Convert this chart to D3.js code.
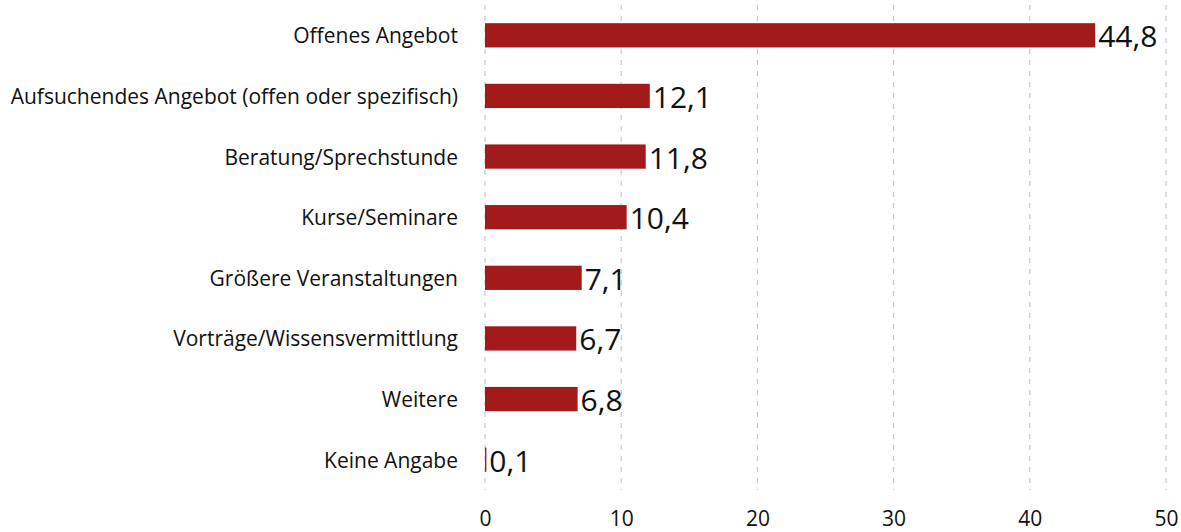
<!DOCTYPE html>
<html>
<head>
<meta charset="utf-8">
<script src="https://cdn.jsdelivr.net/npm/d3@7"></script>
<style>
  body { margin: 0; background: #fff; }
  text { font-family: "Open Sans", Lato, sans-serif; fill: #111; }
</style>
</head>
<body>
<div id="chart-area"></div>
<script>
const categories = [
    "Offenes Angebot",
    "Aufsuchendes Angebot (offen oder spezifisch)",
    "Beratung/Sprechstunde",
    "Kurse/Seminare",
    "Größere Veranstaltungen",
    "Vorträge/Wissensvermittlung",
    "Weitere",
    "Keine Angabe"
];
const values = [44.8, 12.1, 11.8, 10.4, 7.1, 6.7, 6.8, 0.1];
const xTicks = [0, 10, 20, 30, 40, 50];

const width = 1181;
const height = 532;

const data = categories.map((c, i) => ({ name: c, value: values[i] }));

const svg = d3.select('#chart-area')
    .append('svg')
    .attr('width', width)
    .attr('height', height);

const x = d3.scaleLinear()
    .domain([0, 50])
    .range([485, 1166]);

const y = d3.scaleBand()
    .domain(categories)
    .range([5, 490])
    .paddingInner(0.6)
    .paddingOuter(0.3);

// dashed gridlines
svg.append('g')
    .selectAll('line')
    .data(xTicks)
    .enter()
    .append('line')
    .attr('x1', d => x(d))
    .attr('x2', d => x(d))
    .attr('y1', 5)
    .attr('y2', 490)
    .attr('stroke', '#bdbdbd')
    .attr('stroke-width', 1)
    .attr('stroke-dasharray', '5,6');

svg.selectAll('rect')
    .data(data)
    .enter()
    .append('rect')
    .attr('x', x(0))
    .attr('y', d => y(d.name))
    .attr('width', d => x(d.value) - x(0))
    .attr('height', y.bandwidth())
    .attr('fill', '#a31a1a');

svg.selectAll('.value')
    .data(data)
    .enter()
    .append('text')
    .attr('class', 'value')
    .attr('x', d => x(d.value) + 3)
    .attr('y', d => y(d.name) + y.bandwidth() / 2)
    .attr('dy', '0.4em')
    .attr('font-size', 30)
    .text(d => String(d.value.toFixed(1)).replace('.', ','));

svg.selectAll('.cat')
    .data(data)
    .enter()
    .append('text')
    .attr('class', 'cat')
    .attr('x', 458)
    .attr('y', d => y(d.name) + y.bandwidth() / 2)
    .attr('dy', '0.38em')
    .attr('text-anchor', 'end')
    .attr('font-size', 21)
    .text(d => d.name);

const xAxis = d3.axisBottom(x)
    .tickValues(xTicks)
    .tickSize(0)
    .tickPadding(0);
const ax = svg.append('g')
    .attr('transform', 'translate(0, 511)')
    .call(xAxis);
ax.select('.domain').remove();
ax.selectAll('text')
    .attr('font-size', 21)
    .attr('fill', '#111')
    .style('font-family', '"Open Sans", sans-serif');
</script>
</body>
</html>
